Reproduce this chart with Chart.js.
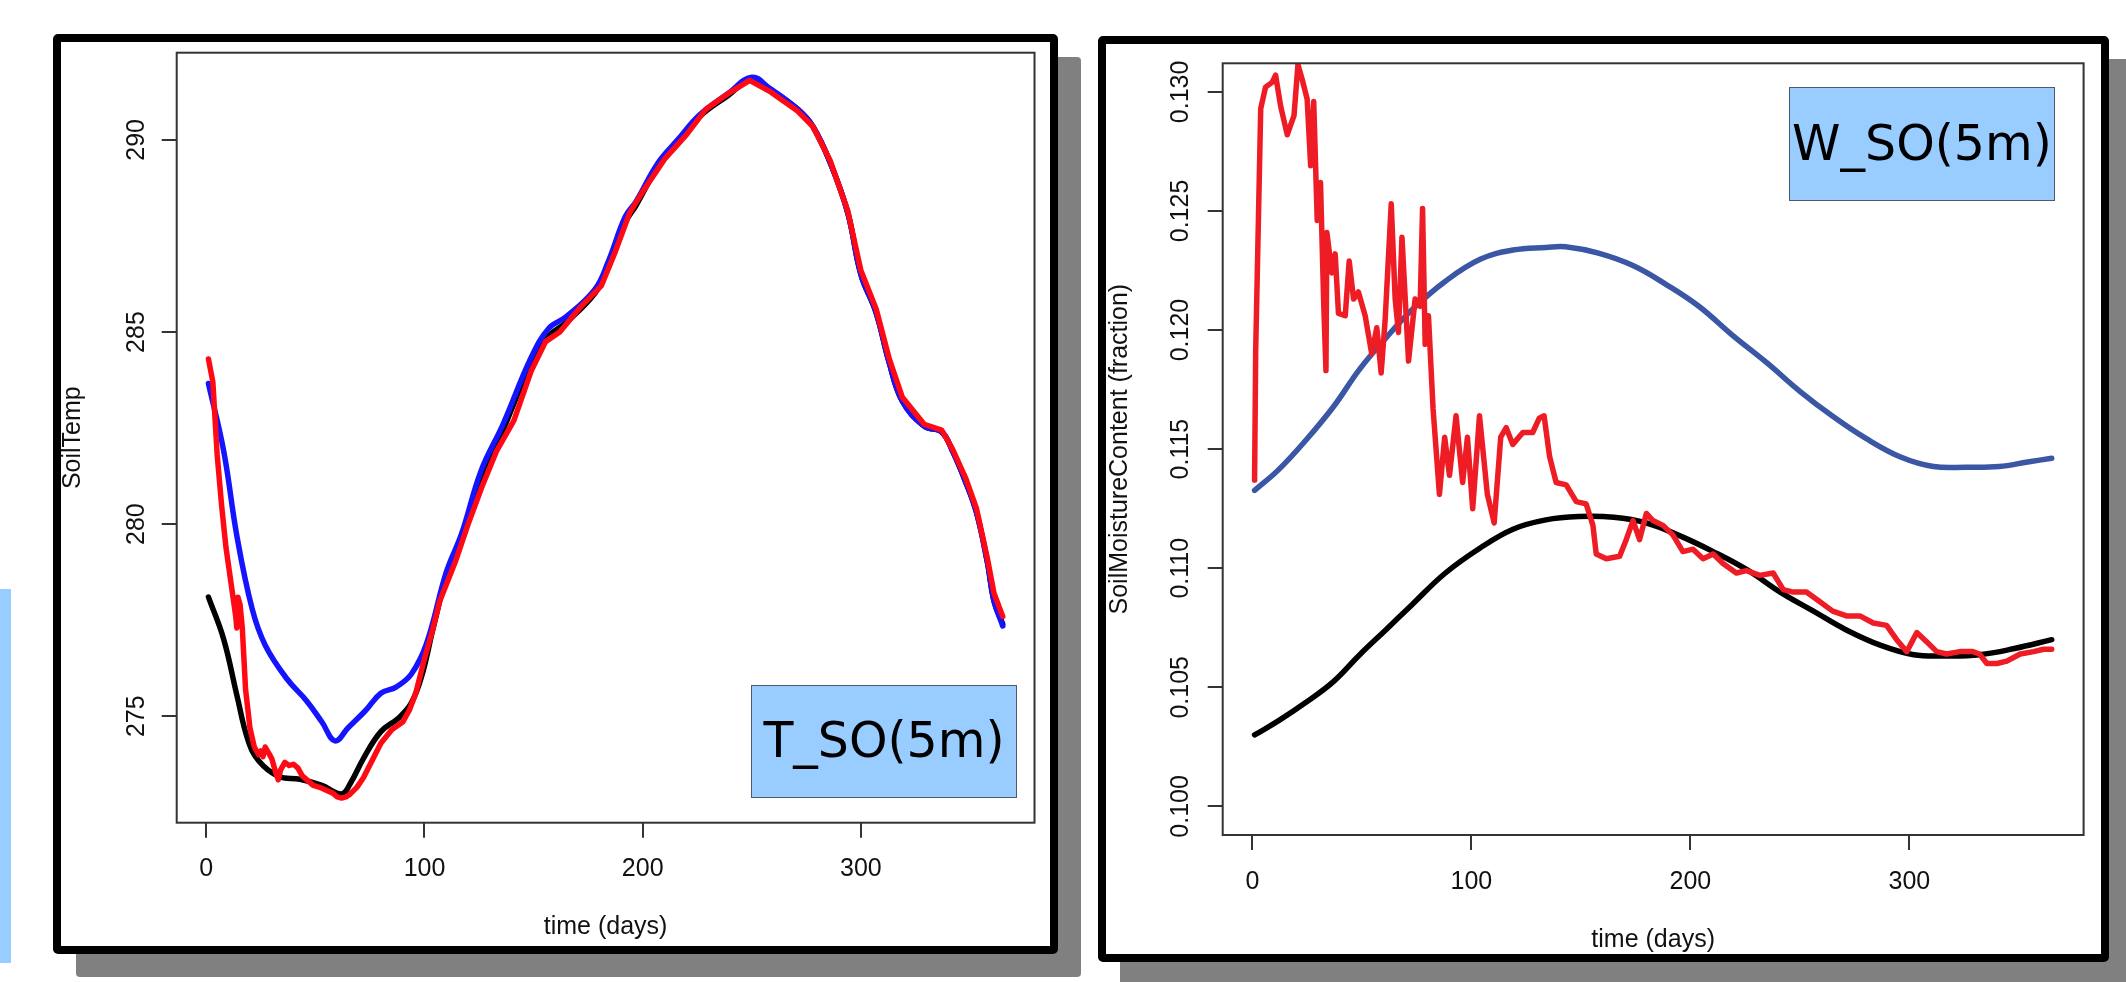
<!DOCTYPE html>
<html>
<head>
<meta charset="utf-8">
<script src="https://cdn.jsdelivr.net/npm/chart.js@4.4.1/dist/chart.umd.min.js"></script>
<style>
  html, body { margin: 0; padding: 0; background: #fff; }
  body { width: 2126px; height: 982px; position: relative; overflow: hidden; }
  .abs { position: absolute; }
  .shadow { background: #808080; border-radius: 4px; }
  .frame { background: #fff; border: 8px solid #000; border-radius: 5px; box-sizing: border-box; }
  .tag { background: #99ccff; border: 1.5px solid #4d5a6a; box-sizing: border-box;
         font-family: "DejaVu Sans", sans-serif; font-size: 49px; color: #000; text-align: center; }
  canvas { position: absolute; }
</style>
</head>
<body>
<div class="abs" style="left:0;top:589px;width:11px;height:374px;background:#99ccff"></div>
<div class="abs shadow" style="left:76px;top:57px;width:1005px;height:920px"></div>
<div class="abs shadow" style="left:1120px;top:59px;width:1010px;height:930px"></div>
<div class="abs frame" style="left:53px;top:34px;width:1005px;height:920px"></div>
<div class="abs frame" style="left:1098px;top:36px;width:1011px;height:926px"></div>
<canvas id="chart-temp" width="990" height="904" style="left:61px;top:42px"></canvas>
<canvas id="chart-moist" width="996" height="910" style="left:1106px;top:44px"></canvas>
<div class="abs tag" style="left:751px;top:685px;width:266px;height:113px;line-height:110px">T_SO(5m)</div>
<div class="abs tag" style="left:1789px;top:87px;width:266px;height:114px;line-height:111px">W_SO(5m)</div>

<script>
// ---- soil temperature (left panel) ----
const tempTicksX = [0, 100, 200, 300];
const tempTicksY = [275, 280, 285, 290];

const tBlackDays = [1, 8, 14, 19, 24, 33, 43, 53, 62, 66, 72, 80, 88, 94, 99, 104, 110, 117, 126, 136, 149, 157, 165, 178, 184, 192, 197, 207, 216, 226, 239, 250, 258, 271, 278, 286, 294, 300, 307, 313, 319, 329, 337, 342, 348, 353, 358, 361, 365];
const tBlack = [278.1, 277.0, 275.55, 274.4, 273.84, 273.44, 273.36, 273.2, 272.98, 273.25, 273.9, 274.6, 274.95, 275.35, 276.1, 277.3, 278.6, 279.55, 281.2, 282.45, 284.2, 284.9, 285.25, 286.0, 286.65, 287.85, 288.3, 289.3, 289.9, 290.6, 291.15, 291.58, 291.33, 290.8, 290.35, 289.4, 288.1, 286.5, 285.5, 284.2, 283.2, 282.55, 282.4, 281.9, 281.1, 280.3, 279.0, 278.0, 277.4];

const tBlueDays = [1, 8, 14, 21, 27, 37, 46, 53, 59, 65, 73, 80, 87, 94, 101, 110, 117, 126, 136, 149, 157, 165, 178, 184, 192, 197, 207, 216, 226, 239, 250, 258, 271, 278, 286, 294, 300, 307, 313, 319, 329, 337, 342, 348, 353, 358, 361, 365];
const tBlue = [283.66, 281.9, 279.7, 277.8, 276.85, 275.97, 275.4, 274.85, 274.36, 274.7, 275.15, 275.6, 275.76, 276.1, 276.9, 278.75, 279.75, 281.4, 282.6, 284.35, 285.1, 285.4, 286.1, 286.8, 288.0, 288.4, 289.4, 290.0, 290.65, 291.2, 291.63, 291.35, 290.8, 290.35, 289.4, 288.1, 286.5, 285.5, 284.2, 283.2, 282.55, 282.4, 281.9, 281.1, 280.3, 279.0, 278.0, 277.35];

const tRedDays = [1, 2, 3, 5, 7, 9, 11, 12.5, 13.5, 14, 14.5, 15.5, 16.5, 18, 20, 22, 24, 25, 26, 27, 29, 30, 32, 33, 34, 36, 38, 40, 42, 44, 46, 49, 52, 54, 56, 58, 60, 62, 64, 66, 69, 72, 76, 80, 85, 90, 93, 96, 100, 103.5, 107, 114, 120, 126.5, 133, 141, 149, 155.5, 162, 171.5, 181, 187.5, 194, 200, 210, 220, 229, 239, 249, 258, 271, 278, 286, 294, 300, 307, 313, 319, 329, 337, 342, 348, 353, 358, 361, 365];
const tRed = [284.3, 284.0, 283.7, 281.8, 280.5, 279.4, 278.6, 278.0, 277.6, 277.3, 278.1, 277.9, 277.3, 275.7, 274.7, 274.2, 274.0, 274.1, 273.95, 274.2, 274.0, 273.9, 273.5, 273.35, 273.6, 273.8, 273.72, 273.75, 273.65, 273.45, 273.35, 273.2, 273.15, 273.1, 273.05, 273.0, 272.9, 272.87, 272.9, 272.98, 273.15, 273.4, 273.85, 274.3, 274.65, 274.85, 275.15, 275.6, 276.5, 277.2, 278.0, 279.0, 280.0, 281.0, 281.9, 282.7, 284.0, 284.75, 285.0, 285.65, 286.2, 287.1, 288.1, 288.65, 289.5, 290.13, 290.8, 291.2, 291.55, 291.27, 290.75, 290.35, 289.45, 288.15, 286.6, 285.6, 284.3, 283.3, 282.6, 282.45, 281.95, 281.2, 280.4, 279.1, 278.2, 277.6];

// ---- soil moisture (right panel) ----
const moistTicksX = [0, 100, 200, 300];
const moistTicksY = [0.100, 0.105, 0.110, 0.115, 0.120, 0.125, 0.130];

const wBlueDays = [1, 12, 24, 37, 49, 61, 73, 88, 104, 119, 134, 143, 158, 174, 189, 204, 219, 235, 250, 265, 280, 296, 311, 326, 341, 354, 365];
const wBlue = [0.11327, 0.11414, 0.11533, 0.11678, 0.11836, 0.11967, 0.12086, 0.12204, 0.12297, 0.12336, 0.12347, 0.12350, 0.12323, 0.12270, 0.12191, 0.12099, 0.11980, 0.11862, 0.11743, 0.11638, 0.11546, 0.11467, 0.11427, 0.11424, 0.11427, 0.11446, 0.11462];

const wBlackDays = [1, 12, 24, 37, 49, 61, 73, 88, 104, 119, 134, 149, 165, 180, 195, 210, 226, 241, 256, 271, 287, 302, 317, 332, 348, 365];
const wBlack = [0.1030, 0.1036, 0.10434, 0.10524, 0.10637, 0.10742, 0.10848, 0.10979, 0.11085, 0.11164, 0.11203, 0.11217, 0.11214, 0.11190, 0.11137, 0.11072, 0.10993, 0.10900, 0.10821, 0.10742, 0.10676, 0.10637, 0.10632, 0.10637, 0.10663, 0.10700];

const wRedDays = [1, 1.5, 3.8, 6, 9, 10.6, 12.9, 15.9, 19, 20.8, 22.8, 25, 26.6, 28, 29.6, 31.1, 32.6, 33.6, 34, 36.3, 37.8, 39.3, 42.4, 44.2, 46.2, 48.4, 51.5, 54.5, 56.8, 58.8, 60.6, 63.4, 65.2, 66.7, 68.3, 71.3, 74.3, 76.6, 77.7, 78.9, 80.4, 82.5, 85.4, 87.8, 90, 93, 96, 98.2, 100.6, 103.7, 107.3, 110.4, 113.4, 115.9, 118.9, 123.5, 128, 131, 133.2, 135.7, 138.7, 143.3, 147.9, 152.4, 155.5, 157, 161.6, 167.7, 170.7, 173.8, 176.8, 179.9, 182.9, 187.5, 192, 196.6, 201.2, 205.8, 210.4, 214.9, 221, 225.6, 231.7, 237.8, 242.4, 247, 253, 259, 265, 271.3, 277.4, 283.5, 289.6, 294.2, 298.8, 303.4, 308, 312.5, 317, 323, 329, 332, 335.4, 340, 344.5, 350.6, 356.7, 361.3, 365];
const wRed = [0.1137, 0.1191, 0.1293, 0.1302, 0.1304, 0.1307, 0.1294, 0.1282, 0.1290, 0.13115, 0.1305, 0.1297, 0.1269, 0.1296, 0.1246, 0.1262, 0.1210, 0.1183, 0.1241, 0.1224, 0.1232, 0.1207, 0.1206, 0.1229, 0.1213, 0.1216, 0.1206, 0.1190, 0.1201, 0.1182, 0.1204, 0.1253, 0.1213, 0.1199, 0.1239, 0.1187, 0.1213, 0.1210, 0.1251, 0.1194, 0.1206, 0.1167, 0.1131, 0.1155, 0.1139, 0.1164, 0.1136, 0.1155, 0.1125, 0.1164, 0.1131, 0.1119, 0.1155, 0.1159, 0.1152, 0.1157, 0.1157, 0.1163, 0.1164, 0.1147, 0.1136, 0.1135, 0.1128, 0.1127, 0.1118, 0.1106, 0.1104, 0.1105, 0.1112, 0.1120, 0.1112, 0.1123, 0.1120, 0.1118, 0.1114, 0.1107, 0.1108, 0.1104, 0.1106, 0.1102, 0.1098, 0.1099, 0.1097, 0.1098, 0.1091, 0.1090, 0.1090, 0.1086, 0.1082, 0.1080, 0.1080, 0.1077, 0.1076, 0.1070, 0.1065, 0.1073, 0.1069, 0.1065, 0.1064, 0.1065, 0.1065, 0.1064, 0.1060, 0.1060, 0.1061, 0.1064, 0.1065, 0.1066, 0.1066];

const labelFont = '25px "Liberation Sans", Arial, sans-serif';

function series(days, vals, color, order, smooth) {
  return {
    data: days.map((d, i) => ({x: d, y: vals[i]})),
    borderColor: color,
    borderWidth: 5.5,
    pointRadius: 0,
    fill: false,
    order: order,
    tension: smooth ? 0.4 : 0,
    borderJoinStyle: 'round',
    borderCapStyle: 'round'
  };
}

// R-style box, rotated y labels and axis titles
function rAxes(p) {
  return {
    id: 'rAxes',
    afterDraw(chart) {
      const ctx = chart.ctx, a = chart.chartArea;
      const x = chart.scales.x, y = chart.scales.y;
      ctx.save();
      ctx.strokeStyle = '#333';
      ctx.lineWidth = 2;
      ctx.strokeRect(a.left, a.top, a.right - a.left, a.bottom - a.top);
      ctx.fillStyle = '#111';
      ctx.font = labelFont;
      ctx.textAlign = 'center';
      ctx.textBaseline = 'alphabetic';
      p.xTicks.forEach(v => ctx.fillText(String(v), x.getPixelForValue(v), p.xLabelY));
      ctx.fillText('time (days)', (a.left + a.right) / 2, p.xTitleY);
      p.yTicks.forEach(v => {
        ctx.save();
        ctx.translate(p.yLabelX, y.getPixelForValue(v));
        ctx.rotate(-Math.PI / 2);
        ctx.fillText(v.toFixed(p.yDec), 0, 0);
        ctx.restore();
      });
      ctx.translate(p.yTitleX, (a.top + a.bottom) / 2);
      ctx.rotate(-Math.PI / 2);
      ctx.fillText(p.yTitle, 0, 0);
      ctx.restore();
    }
  };
}

function axis(ticks, min, max, size, horizontal) {
  return {
    type: 'linear',
    min: min,
    max: max,
    border: {display: false},
    grid: {drawOnChartArea: false, drawTicks: true, tickLength: 15, color: '#333', lineWidth: 2},
    ticks: {display: false},
    afterBuildTicks: s => { s.ticks = ticks.map(v => ({value: v})); },
    afterFit: s => { if (horizontal) s.height = size; else s.width = size; }
  };
}

function makeChart(id, datasets, cfg) {
  return new Chart(document.getElementById(id), {
    type: 'line',
    data: {datasets: datasets},
    options: {
      responsive: false,
      animation: false,
      layout: {padding: {top: cfg.padTop, right: cfg.padRight, left: 0, bottom: 0}},
      plugins: {legend: {display: false}, tooltip: {enabled: false}},
      scales: {
        x: axis(cfg.xTicks, -13.56, 379.56, cfg.xSize, true),
        y: axis(cfg.yTicks, cfg.yMin, cfg.yMax, cfg.ySize, false)
      }
    },
    plugins: [rAxes(cfg)]
  });
}

makeChart('chart-temp', [
  series(tRedDays, tRed, '#ff0a14', 0, false),
  series(tBlueDays, tBlue, '#1414ff', 1, true),
  series(tBlackDays, tBlack, '#000000', 2, true)
], {
  xTicks: tempTicksX, yTicks: tempTicksY, yDec: 0,
  yMin: 272.23, yMax: 292.27,
  padTop: 10.7, padRight: 16.5, xSize: 123.3, ySize: 115.7,
  xLabelY: 834, xTitleY: 892, yLabelX: 83, yTitleX: 19, yTitle: 'SoilTemp'
});

makeChart('chart-moist', [
  series(wRedDays, wRed, '#ee1c25', 0, false),
  series(wBlackDays, wBlack, '#000000', 1, true),
  series(wBlueDays, wBlue, '#3a56a5', 2, true)
], {
  xTicks: moistTicksX, yTicks: moistTicksY, yDec: 3,
  yMin: 0.0988, yMax: 0.1312,
  padTop: 19.3, padRight: 18.4, xSize: 119, ySize: 116.7,
  xLabelY: 845, xTitleY: 903, yLabelX: 82.3, yTitleX: 21, yTitle: 'SoilMoistureContent (fraction)'
});
</script>
</body>
</html>
